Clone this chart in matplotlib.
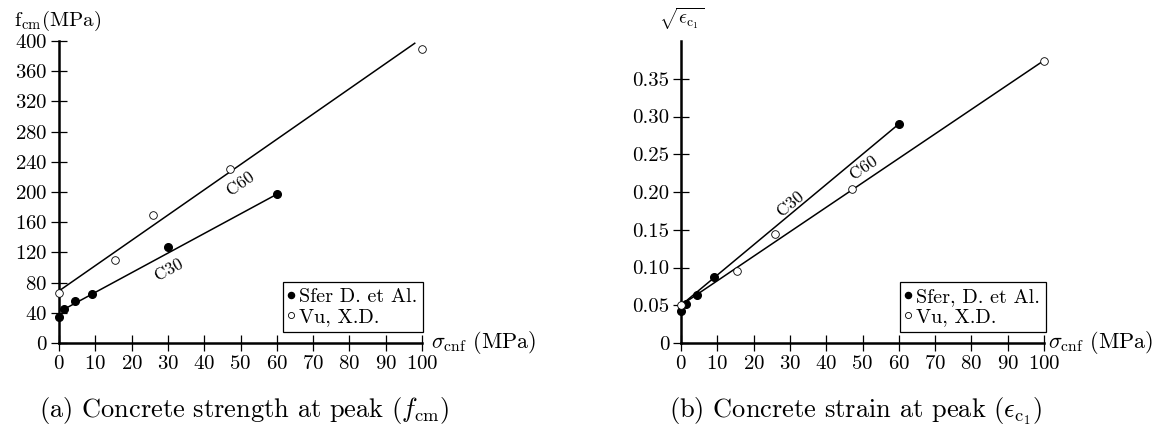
import matplotlib
matplotlib.use("Agg")
import matplotlib.pyplot as plt

plt.rcParams['font.family'] = 'serif'
plt.rcParams['font.serif'] = ['cmr10']
plt.rcParams['mathtext.fontset'] = 'cm'
plt.rcParams['axes.formatter.use_mathtext'] = True

# (a) peak strength f_cm vs confinement
sfer_x_a = [0, 1.5, 4.5, 9, 30, 60]
sfer_y_a = [35, 45, 55, 65, 127, 197]
vu_x_a = [0, 15.5, 26, 47, 100]
vu_y_a = [66, 110, 170, 230, 390]
c30_x_a = [1.5, 60]
c30_y_a = [45, 197]
c60_x_a = [0, 98]
c60_y_a = [69, 397]

# (b) sqrt of strain at peak vs confinement
sfer_x_b = [0, 1.5, 4.5, 9, 60]
sfer_y_b = [0.043, 0.052, 0.064, 0.088, 0.290]
vu_x_b = [0, 15.5, 26, 47, 100]
vu_y_b = [0.050, 0.095, 0.145, 0.204, 0.374]
c30_x_b = [0, 60]
c30_y_b = [0.050, 0.290]
c60_x_b = [0, 99]
c60_y_b = [0.050, 0.371]

x_ticks = list(range(0, 101, 10))
y_ticks_a = list(range(0, 401, 40))
y_ticks_b = [0, 0.05, 0.10, 0.15, 0.20, 0.25, 0.30, 0.35]
y_labels_b = ['0', '0.05', '0.10', '0.15', '0.20', '0.25', '0.30', '0.35']

fig = plt.figure(figsize=(11.67, 4.32), dpi=100)
W, H = 1167, 432
ax1 = fig.add_axes([59 / W, 1 - 343 / H, 363 / W, 302 / H])
ax2 = fig.add_axes([681 / W, 1 - 343 / H, 363 / W, 302 / H])


def style(ax):
    for s in ['top', 'right']:
        ax.spines[s].set_visible(False)
    for s in ['left', 'bottom']:
        ax.spines[s].set_linewidth(1.8)
    ax.tick_params(direction='inout', length=11, width=0.9, labelsize=15, pad=3)
    ax.set_xlim(0, 100)
    ax.set_xticks(x_ticks)


def draw(ax, sx, sy, vx, vy, l30x, l30y, l60x, l60y, lab):
    ax.plot(l30x, l30y, color='black', lw=1.1, zorder=2)
    ax.plot(l60x, l60y, color='black', lw=1.1, zorder=2)
    ax.plot(sx, sy, 'o', color='black', ms=5.5, ls='none', clip_on=False, zorder=5,
            label=lab[0])
    ax.plot(vx, vy, 'o', mfc='white', mec='black', mew=0.6, ms=5.5, ls='none',
            clip_on=False, zorder=6, label=lab[1])


style(ax1)
ax1.set_ylim(0, 400)
ax1.set_yticks(y_ticks_a)
draw(ax1, sfer_x_a, sfer_y_a, vu_x_a, vu_y_a, c30_x_a, c30_y_a, c60_x_a, c60_y_a,
     ['Sfer D. et Al.', 'Vu, X.D.'])
ax1.text(50.1, 210.6, 'C60', rotation=35, ha='center', va='center', fontsize=12.5,
         rotation_mode='anchor')
ax1.text(30.3, 96.7, 'C30', rotation=28.4, ha='center', va='center', fontsize=12.5,
         rotation_mode='anchor')

style(ax2)
ax2.set_ylim(0, 0.4)
ax2.set_yticks(y_ticks_b)
ax2.set_yticklabels(y_labels_b)
draw(ax2, sfer_x_b, sfer_y_b, vu_x_b, vu_y_b, c30_x_b, c30_y_b, c60_x_b, c60_y_b,
     ['Sfer, D. et Al.', 'Vu, X.D.'])
ax2.text(30.3, 0.185, 'C30', rotation=39.8, ha='center', va='center', fontsize=12.5,
         rotation_mode='anchor')
ax2.text(50.4, 0.232, 'C60', rotation=34.2, ha='center', va='center', fontsize=12.5,
         rotation_mode='anchor')

for ax, x0 in [(ax1, 0.617), (ax2, 0.603)]:
    leg = ax.legend(loc='lower left', bbox_to_anchor=(x0, 0.036), fontsize=14.5,
                    handlelength=0.2, handletextpad=0.3, borderpad=0.3,
                    labelspacing=0.1, fancybox=False, framealpha=1,
                    edgecolor='black', markerscale=0.8, borderaxespad=0)
    leg.get_frame().set_linewidth(0.9)

ax1.text(1.026, 0, r'$\sigma_{\mathrm{cnf}}$ (MPa)', transform=ax1.transAxes,
         ha='left', va='center', fontsize=16)
ax2.text(1.01, 0, r'$\sigma_{\mathrm{cnf}}$ (MPa)', transform=ax2.transAxes,
         ha='left', va='center', fontsize=16)

fig.text(58 / W, 1 - 21 / H, r'$\mathrm{f_{cm}}$(MPa)', ha='center', va='center',
         fontsize=15)
fig.text(682 / W, 1 - 19 / H, r'$\sqrt{\epsilon_{\mathrm{c}_1}}$', ha='center',
         va='center', fontsize=14)

fig.text(244 / W, 1 - 411 / H, r'(a) Concrete strength at peak ($f_{\mathrm{cm}}$)',
         ha='center', va='center', fontsize=19)
fig.text(856 / W, 1 - 411 / H, r'(b) Concrete strain at peak ($\epsilon_{\mathrm{c}_1}$)',
         ha='center', va='center', fontsize=19)

fig.savefig('out.png', dpi=100)
